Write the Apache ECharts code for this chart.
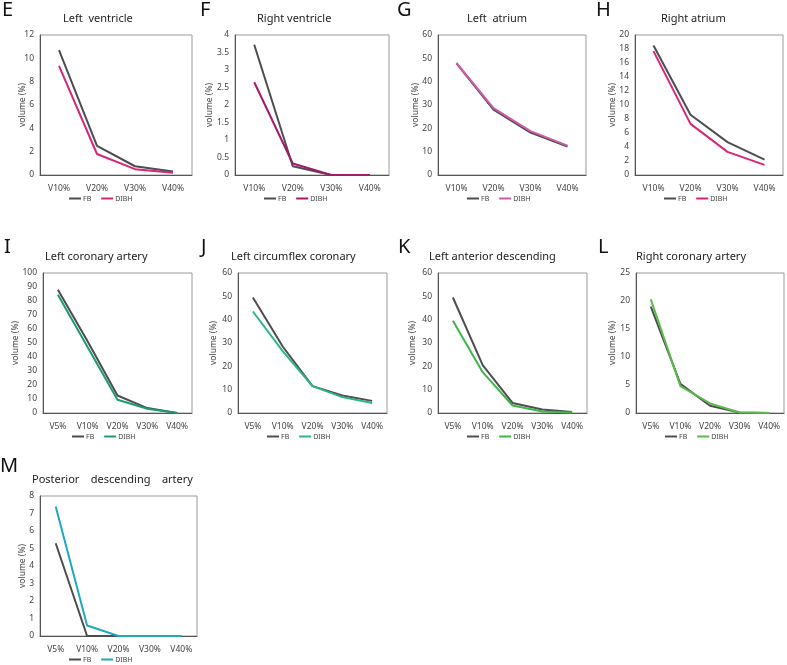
<!DOCTYPE html>
<html>
<head>
<meta charset="utf-8">
<script src="https://cdn.jsdelivr.net/npm/echarts@6/dist/echarts.min.js"></script>
<style>
  html, body { margin: 0; padding: 0; background: #fff; }
  #main { width: 787px; height: 665px; }
</style>
</head>
<body>
<div id="main"></div>
<script>
// categories
const cat4 = ['V10%', 'V20%', 'V30%', 'V40%'];
const cat5 = ['V5%', 'V10%', 'V20%', 'V30%', 'V40%'];

// E - left ventricle
const lvFB = [10.7, 2.5, 0.75, 0.3];
const lvDIBH = [9.35, 1.8, 0.5, 0.2];
// F - right ventricle
const rvFB = [3.72, 0.25, 0, 0];
const rvDIBH = [2.65, 0.33, 0, 0];
// G - left atrium
const laFB = [47.8, 28, 18.2, 12.2];
const laDIBH = [48, 28.7, 18.8, 12.6];
// H - right atrium
const raFB = [18.5, 8.6, 4.7, 2.2];
const raDIBH = [17.7, 7.3, 3.3, 1.45];
// I - left coronary artery
const lcaFB = [88, 51, 12.5, 3.5, 0];
const lcaDIBH = [84.5, 47, 9.5, 3, 0];
// J - left circumflex coronary
const lcxFB = [49.5, 28.5, 11.5, 7.5, 5.2];
const lcxDIBH = [43.5, 26.5, 11.5, 6.8, 4.3];
// K - left anterior descending
const ladFB = [49.5, 20.5, 4.3, 1.5, 0.4];
const ladDIBH = [39.5, 17.5, 3.2, 0.6, 0.2];
// L - right coronary artery
const rcaFB = [19, 5.2, 1.3, 0.1, 0];
const rcaDIBH = [20.3, 4.8, 1.7, 0.1, 0];
// M - posterior descending artery
const pdaFB = [5.3, 0, 0, 0, 0];
const pdaDIBH = [7.4, 0.6, 0, 0, 0];

// y axis ticks: [max, interval]
const lvTicks = [12, 2];
const rvTicks = [4, 0.5];
const laTicks = [60, 10];
const raTicks = [20, 2];
const lcaTicks = [100, 10];
const lcxTicks = [60, 10];
const ladTicks = [60, 10];
const rcaTicks = [25, 5];
const pdaTicks = [8, 1];

const panels = [
  { tag: 'E', title: 'Left  ventricle', cats: cat4, fb: lvFB, dibh: lvDIBH, ticks: lvTicks, color: '#d6267c',
    box: [40, 35, 152, 140], titlePos: [63, 13], tagPos: [2, 0], legTop: 195, nameGap: 13 },
  { tag: 'F', title: 'Right ventricle', cats: cat4, fb: rvFB, dibh: rvDIBH, ticks: rvTicks, color: '#a3196e',
    box: [235, 35, 154, 140], titlePos: [257, 13], tagPos: [200, 0], legTop: 195, nameGap: 21 },
  { tag: 'G', title: 'Left  atrium', cats: cat4, fb: laFB, dibh: laDIBH, ticks: laTicks, color: '#cc5cab',
    box: [438, 35, 148, 140], titlePos: [467, 13], tagPos: [397, 0], legTop: 195, nameGap: 18 },
  { tag: 'H', title: 'Right atrium', cats: cat4, fb: raFB, dibh: raDIBH, ticks: raTicks, color: '#d6267c',
    box: [635, 35, 148, 140], titlePos: [661, 13], tagPos: [596, 0], legTop: 195, nameGap: 18 },
  { tag: 'I', title: 'Left coronary artery', cats: cat5, fb: lcaFB, dibh: lcaDIBH, ticks: lcaTicks, color: '#1b9a76',
    box: [43, 273, 149, 140], titlePos: [45, 251], tagPos: [4, 237], legTop: 433, nameGap: 23 },
  { tag: 'J', title: 'Left circumflex coronary', cats: cat5, fb: lcxFB, dibh: lcxDIBH, ticks: lcxTicks, color: '#2ab68b',
    box: [238, 273, 149, 140], titlePos: [231, 251], tagPos: [201, 237], legTop: 433, nameGap: 20 },
  { tag: 'K', title: 'Left anterior descending', cats: cat5, fb: ladFB, dibh: ladDIBH, ticks: ladTicks, color: '#3db54b',
    box: [438, 273, 149, 140], titlePos: [429, 251], tagPos: [398, 237], legTop: 433, nameGap: 21 },
  { tag: 'L', title: 'Right coronary artery', cats: cat5, fb: rcaFB, dibh: rcaDIBH, ticks: rcaTicks, color: '#5cb94c',
    box: [636, 273, 148, 140], titlePos: [636, 251], tagPos: [598, 237], legTop: 433, nameGap: 19 },
  { tag: 'M', title: 'Posterior    descending    artery', cats: cat5, fb: pdaFB, dibh: pdaDIBH, ticks: pdaTicks, color: '#1fa9bb',
    box: [40, 496, 157, 140], titlePos: [32, 474], tagPos: [0, 456], legTop: 656, nameGap: 13 }
];

const font = '"Noto Sans", "Open Sans", sans-serif';
const grids = [], xAxes = [], yAxes = [], series = [], titles = [], legends = [];

panels.forEach((p, i) => {
  grids.push({
    left: p.box[0], top: p.box[1], width: p.box[2], height: p.box[3],
    show: true, borderColor: '#9a9a9a', borderWidth: 1, containLabel: false
  });
  xAxes.push({
    type: 'category', gridIndex: i, data: p.cats,
    axisTick: { show: false },
    axisLine: { lineStyle: { color: '#555' } },
    axisLabel: { color: '#444', fontSize: 8.5, fontFamily: font, margin: 9, interval: 0 }
  });
  yAxes.push({
    type: 'value', gridIndex: i, min: 0, max: p.ticks[0], interval: p.ticks[1],
    name: 'volume (%)', nameLocation: 'middle', nameGap: p.nameGap, nameMoveOverlap: false,
    nameTextStyle: { color: '#444', fontSize: 8.5, fontFamily: font },
    axisLine: { show: true, lineStyle: { color: '#555' } },
    axisTick: { show: false },
    splitLine: { show: false },
    axisLabel: { color: '#444', fontSize: 8.5, fontFamily: font, margin: 6 }
  });
  series.push({
    name: 'FB-' + p.tag, type: 'line', xAxisIndex: i, yAxisIndex: i, data: p.fb,
    symbol: 'none', color: '#4d4d4f', lineStyle: { width: 2, color: '#4d4d4f' }, animation: false
  });
  series.push({
    name: 'DIBH-' + p.tag, type: 'line', xAxisIndex: i, yAxisIndex: i, data: p.dibh,
    symbol: 'none', color: p.color, lineStyle: { width: 2, color: p.color }, animation: false
  });
  titles.push({
    text: p.title, left: p.titlePos[0], top: p.titlePos[1], padding: 0,
    textStyle: { fontSize: 11, fontWeight: 'normal', color: '#222', fontFamily: font }
  });
  titles.push({
    text: p.tag, left: p.tagPos[0], top: p.tagPos[1], padding: 0,
    textStyle: { fontSize: 20, fontWeight: 'normal', color: '#111', fontFamily: font }
  });
  legends.push({
    data: ['FB-' + p.tag, 'DIBH-' + p.tag],
    left: p.box[0] + 29, top: p.legTop, padding: 0,
    itemWidth: 12, itemHeight: 2, itemGap: 10,
    icon: 'rect', selectedMode: false,
    formatter: name => name.split('-')[0],
    textStyle: { fontSize: 7, color: '#444', fontFamily: font, padding: [0, 0, 0, -3] }
  });
});

const chart = echarts.init(document.getElementById('main'), null, { renderer: 'canvas' });
chart.setOption({
  backgroundColor: '#fff',
  animation: false,
  title: titles,
  legend: legends,
  grid: grids,
  xAxis: xAxes,
  yAxis: yAxes,
  series: series
});
</script>
</body>
</html>
